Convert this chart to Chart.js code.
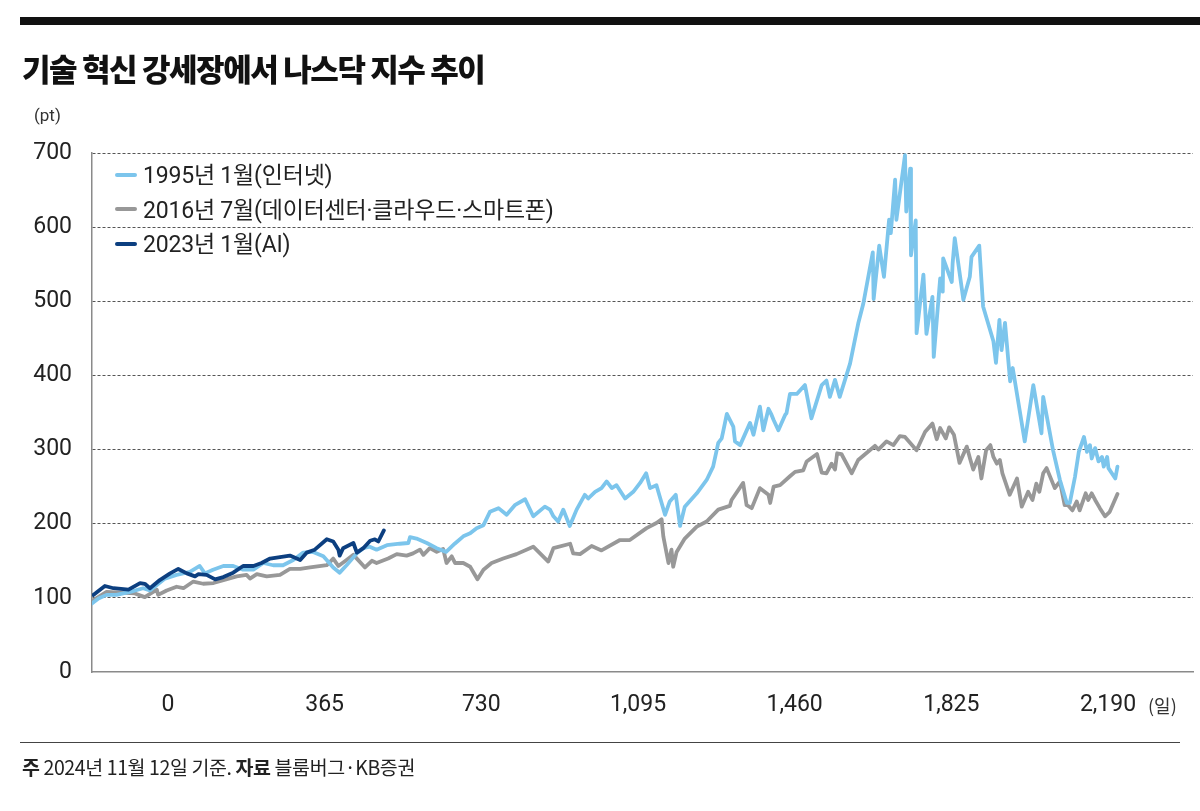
<!DOCTYPE html>
<html>
<head>
<meta charset="utf-8">
<script src="https://cdn.jsdelivr.net/npm/chart.js@4.4.1/dist/chart.umd.min.js"></script>
<style>
  body { margin: 0; background: #fff; font-family: Roboto, 'Noto Sans CJK KR', sans-serif; color: #222; }
  #wrap { position: relative; width: 1200px; height: 811px; overflow: hidden; }
  #chart { position: absolute; left: 0; top: 0; }
  .bar { position: absolute; left: 20px; top: 17px; width: 1180px; height: 8px; background: #111; }
  .title { position: absolute; left: 22px; top: 45px; font-family: 'Noto Sans CJK KR', sans-serif; font-weight: 900; font-size: 31px; letter-spacing: -1.4px; color: #111; }
  .unit { position: absolute; left: 34px; top: 105px; font-size: 17px; color: #333; }
  .days { position: absolute; left: 1148px; top: 692px; font-size: 18px; font-family: 'Noto Sans CJK KR', sans-serif; color: #333; }
  .legend { position: absolute; left: 115px; top: 160px; font-size: 23px; }
  .legend div { height: 34.5px; line-height: 32px; white-space: nowrap; letter-spacing: -0.2px; }
  .legend span.sw { display: inline-block; width: 22px; height: 4px; border-radius: 2px; vertical-align: middle; margin-right: 6px; position: relative; top: -2px; }
  .rule { position: absolute; left: 20px; top: 742px; width: 1160px; height: 1px; background: #444; }
  .note { position: absolute; left: 22px; top: 752px; font-size: 19.5px; font-family: 'Noto Sans CJK KR', sans-serif; color: #222; letter-spacing: -0.4px; }
  .note b { font-weight: 700; }
</style>
</head>
<body>
<div id="wrap">
  <canvas id="chart" width="1200" height="811"></canvas>
  <div class="bar"></div>
  <div class="title">기술 혁신 강세장에서 나스닥 지수 추이</div>
  <div class="unit">(pt)</div>
  <div class="legend" id="legend"></div>
  <div class="days">(일)</div>
  <div class="rule"></div>
  <div class="note"><b>주</b> 2024년 11월 12일 기준. <b>자료</b> 블룸버그·KB증권</div>
</div>
<script>
// 1995년 1월(인터넷)
const internetDays = [-178, -162, -143, -120, -88, -58, -42, -7, 20, 51, 74, 86, 105, 129, 152, 175, 199, 222, 245, 268, 292, 315, 338, 362, 385, 400, 416, 440, 455, 470, 486, 510, 540, 560, 564, 579, 603, 626, 648, 668, 688, 704, 719, 735, 750, 770, 789, 808, 832, 851, 878, 890, 898, 909, 921, 936, 952, 971, 979, 995, 1010, 1022, 1034, 1045, 1065, 1084, 1100, 1114, 1123, 1138, 1158, 1169, 1183, 1193, 1204, 1232, 1255, 1270, 1282, 1290, 1294, 1302, 1317, 1321, 1333, 1356, 1364, 1379, 1387, 1399, 1406, 1411, 1422, 1438, 1441, 1449, 1465, 1484, 1499, 1523, 1534, 1542, 1554, 1565, 1589, 1608, 1620, 1642, 1644, 1657, 1668, 1680, 1684, 1694, 1697, 1717, 1720, 1729, 1731, 1737, 1742, 1744, 1760, 1767, 1781, 1784, 1799, 1805, 1806, 1826, 1828, 1833, 1853, 1868, 1872, 1890, 1899, 1923, 1929, 1937, 1942, 1950, 1962, 1968, 1996, 2016, 2035, 2039, 2062, 2078, 2094, 2101, 2113, 2122, 2134, 2141, 2148, 2152, 2160, 2168, 2176, 2180, 2188, 2191, 2207, 2212];
const internetValues = [92, 99, 104, 104, 108, 113, 110, 126, 131, 135, 143, 133, 138, 143, 143, 138, 138, 147, 144, 144, 151, 161, 162, 156, 141, 134, 144, 160, 167, 169, 165, 171, 173, 174, 182, 180, 174, 167, 162, 173, 183, 187, 194, 198, 216, 221, 212, 225, 233, 210, 223, 219, 210, 203, 219, 197, 219, 239, 234, 243, 248, 257, 248, 252, 234, 243, 255, 268, 248, 252, 212, 230, 239, 197, 223, 241, 259, 277, 309, 315, 326, 348, 331, 311, 306, 336, 320, 358, 326, 355, 347, 340, 326, 347, 349, 375, 375, 387, 342, 387, 393, 371, 394, 371, 416, 470, 497, 566, 503, 575, 533, 610, 592, 664, 610, 697, 621, 679, 562, 587, 609, 457, 536, 456, 506, 425, 531, 513, 558, 526, 551, 585, 502, 533, 560, 575, 493, 446, 417, 475, 434, 471, 392, 410, 311, 387, 322, 371, 299, 259, 228, 228, 263, 297, 317, 297, 306, 288, 302, 284, 290, 277, 290, 275, 261, 277];

// 2016년 7월(데이터센터·클라우드·스마트폰)
const cloudDays = [-174, -143, -112, -77, -54, -26, -23, -3, 20, 36, 59, 82, 106, 129, 160, 183, 191, 207, 230, 261, 284, 308, 331, 370, 385, 397, 416, 432, 459, 475, 486, 513, 533, 556, 571, 587, 595, 610, 626, 641, 649, 661, 669, 688, 704, 721, 735, 754, 781, 812, 851, 886, 898, 937, 944, 960, 987, 1010, 1053, 1076, 1115, 1138, 1150, 1154, 1166, 1173, 1177, 1185, 1204, 1232, 1255, 1282, 1309, 1313, 1340, 1348, 1360, 1379, 1399, 1403, 1411, 1426, 1449, 1461, 1480, 1488, 1512, 1523, 1534, 1546, 1554, 1559, 1569, 1593, 1608, 1635, 1647, 1655, 1674, 1690, 1705, 1717, 1744, 1764, 1781, 1791, 1799, 1812, 1820, 1831, 1844, 1861, 1869, 1876, 1888, 1895, 1906, 1916, 1923, 1931, 1938, 1944, 1961, 1978, 1989, 2004, 2014, 2023, 2030, 2039, 2047, 2066, 2078, 2089, 2097, 2107, 2117, 2124, 2138, 2144, 2152, 2160, 2171, 2183, 2194, 2212];
const cloudValues = [97, 108, 107, 106, 101, 111, 104, 110, 115, 113, 122, 119, 120, 124, 129, 131, 126, 132, 129, 131, 139, 139, 141, 144, 153, 143, 151, 158, 141, 150, 147, 153, 159, 157, 160, 165, 158, 167, 162, 166, 147, 156, 147, 147, 142, 125, 138, 147, 153, 159, 169, 149, 167, 173, 160, 159, 170, 164, 178, 178, 194, 201, 206, 183, 147, 165, 142, 162, 180, 196, 203, 219, 224, 232, 255, 225, 221, 248, 239, 228, 250, 252, 264, 270, 272, 284, 294, 269, 268, 281, 273, 295, 294, 268, 286, 299, 305, 300, 311, 306, 318, 317, 299, 324, 335, 314, 329, 315, 330, 320, 282, 304, 287, 273, 290, 261, 299, 306, 290, 281, 286, 268, 239, 261, 223, 243, 232, 254, 243, 268, 275, 248, 257, 225, 225, 218, 230, 218, 241, 232, 241, 232, 221, 210, 216, 240];

// 2023년 1월(AI)
const aiDays = [-174, -147, -127, -92, -65, -54, -42, -19, 5, 24, 44, 63, 71, 90, 110, 129, 152, 175, 199, 218, 238, 261, 284, 308, 323, 342, 370, 385, 397, 400, 408, 432, 440, 455, 471, 482, 490, 503];
const aiValues = [104, 116, 113, 111, 120, 119, 113, 124, 133, 139, 133, 129, 132, 131, 125, 128, 134, 143, 143, 147, 153, 155, 157, 151, 161, 165, 179, 176, 165, 157, 167, 174, 161, 167, 177, 179, 176, 191];

const seriesNames = ['1995년 1월(인터넷)', '2016년 7월(데이터센터·클라우드·스마트폰)', '2023년 1월(AI)'];
const seriesColors = ['#7cc5ec', '#989898', '#0c3f80'];
const xTicks = [0, 365, 730, 1095, 1460, 1825, 2190];
const yTicks = [0, 100, 200, 300, 400, 500, 600, 700];

function toPoints(days, values) {
  return days.map((d, i) => ({ x: d, y: values[i] }));
}

// 범례
const legend = document.getElementById('legend');
seriesNames.forEach((name, i) => {
  const row = document.createElement('div');
  const sw = document.createElement('span');
  sw.className = 'sw';
  sw.style.background = seriesColors[i];
  row.appendChild(sw);
  row.appendChild(document.createTextNode(name));
  legend.appendChild(row);
});

const tickFont = { family: 'Roboto', size: 23 };

new Chart(document.getElementById('chart'), {
  type: 'line',
  data: {
    datasets: [
      { label: seriesNames[0], data: toPoints(internetDays, internetValues), borderColor: seriesColors[0], order: 1 },
      { label: seriesNames[1], data: toPoints(cloudDays, cloudValues), borderColor: seriesColors[1], order: 2 },
      { label: seriesNames[2], data: toPoints(aiDays, aiValues), borderColor: seriesColors[2], order: 0 }
    ]
  },
  options: {
    responsive: false,
    animation: false,
    elements: {
      line: { borderWidth: 3.8, tension: 0, borderJoinStyle: 'round', borderCapStyle: 'round' },
      point: { radius: 0 }
    },
    layout: { padding: { top: 153, right: 7, left: 0, bottom: 0 } },
    plugins: { legend: { display: false }, tooltip: { enabled: false } },
    scales: {
      x: {
        type: 'linear',
        min: -177,
        max: 2388,
        afterBuildTicks: (scale) => { scale.ticks = xTicks.map(v => ({ value: v })); },
        afterFit: (scale) => { scale.height = 139; },
        grid: { display: false, drawTicks: false },
        border: { display: true, color: '#8a8a8a', width: 1.5 },
        ticks: {
          padding: 19,
          color: '#222',
          font: tickFont,
          maxRotation: 0,
          autoSkip: false,
          callback: (v) => v.toLocaleString('en-US')
        }
      },
      y: {
        min: 0,
        max: 700,
        afterBuildTicks: (scale) => { scale.ticks = yTicks.map(v => ({ value: v })); },
        afterFit: (scale) => { scale.width = 92; },
        grid: {
          drawTicks: false,
          color: (ctx) => ctx.tick && ctx.tick.value === 0 ? 'rgba(0,0,0,0)' : '#555',
          lineWidth: 1
        },
        border: { display: true, color: '#8a8a8a', width: 1.5, dash: [3, 2] },
        ticks: { padding: 20, color: '#222', font: tickFont }
      }
    }
  }
});
</script>
</body>
</html>
